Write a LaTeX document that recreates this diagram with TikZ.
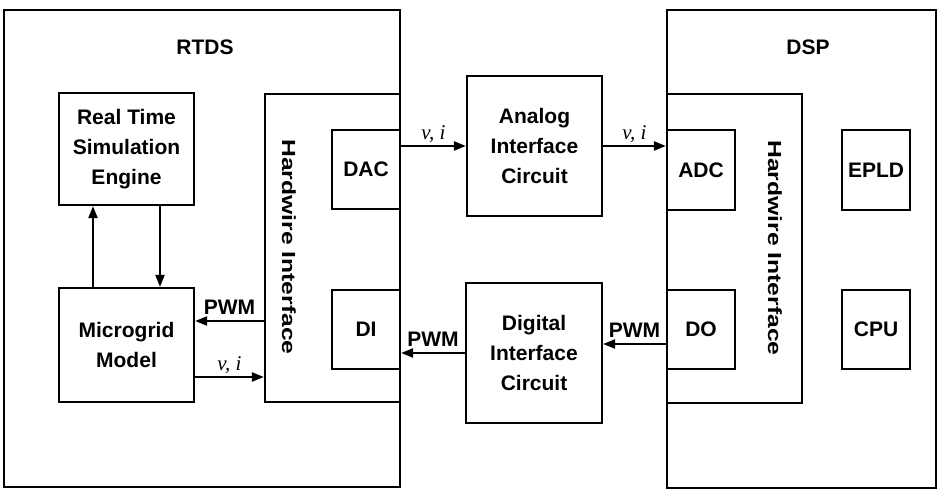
\documentclass[tikz,border=0pt]{standalone}
\usepackage{fontspec}
\setmainfont{Liberation Sans}
\newfontfamily\timesfont{Liberation Serif}
\usetikzlibrary{arrows.meta}

\begin{document}
\begin{tikzpicture}[x=1pt, y=-1pt, line width=2.2pt,
    blk/.style={draw, inner sep=0pt, align=center, font=\bfseries\fontsize{21}{30}\selectfont},
    title/.style={font=\bfseries\fontsize{21}{24}\selectfont},
    hwtext/.style={font=\bfseries\fontsize{19}{24}\selectfont, rotate=-90, xscale=1.3},
    sig/.style={-{Triangle[length=12pt,width=9pt]}},
    vi/.style={font=\timesfont\itshape\fontsize{21}{24}\selectfont, above, inner sep=2pt},
    pwm/.style={font=\bfseries\fontsize{21}{24}\selectfont, above, inner sep=5pt}]

    \useasboundingbox (0,0) rectangle (939,489);

    % RTDS
    \node[blk, minimum width=396pt, minimum height=477pt] (rtds) at (202,248.5) {};
    \node[title] (rtdsname) at (205,47) {RTDS};
    \node[blk, minimum width=135pt, minimum height=112pt] (rtse) at (126.5,149) {Real Time\\Simulation\\Engine};
    \node[blk, minimum width=135pt, minimum height=114pt] (mg) at (126.5,345) {Microgrid\\Model};
    \draw[sig] ([xshift=-33.5pt]mg.north) -- ([xshift=-33.5pt]rtse.south);
    \draw[sig] ([xshift=33.5pt]rtse.south) -- ([xshift=33.5pt]mg.north);

    % Hardwire interface (RTDS)
    \node[blk, minimum width=135pt, minimum height=308pt] (hwl) at (332.5,248) {};
    \node[hwtext] (hwltext) at (289,247) {Hardwire Interface};
    \node[blk, minimum width=68pt, minimum height=79pt] (dac) at (366,169.5) {DAC};
    \node[blk, minimum width=68pt, minimum height=79pt] (di) at (366,329.5) {DI};
    \coordinate (mgin) at ([yshift=24pt]mg.east);
    \coordinate (mgout) at ([yshift=-32pt]mg.east);
    \draw[sig] (hwl.west |- mgin) -- (mgin) node[pwm, midway] (pwmmg) {PWM};
    \draw[sig] (mgout) -- (mgout -| hwl.west) node[vi, midway] (vimg) {v, i};

    % Interface circuits
    \node[blk, minimum width=135pt, minimum height=140pt] (ana) at (534.5,146) {Analog\\Interface\\Circuit};
    \node[blk, minimum width=136pt, minimum height=140pt] (dig) at (534,353) {Digital\\Interface\\Circuit};

    % DSP
    \node[blk, minimum width=269pt, minimum height=478pt] (dsp) at (801.5,249) {};
    \node[title] (dspname) at (808,47) {DSP};
    \node[blk, minimum width=135pt, minimum height=309pt] (hwr) at (734.5,248.5) {};
    \node[hwtext] (hwrtext) at (775,248) {Hardwire Interface};
    \node[blk, minimum width=68pt, minimum height=80pt] (adc) at (701,170) {ADC};
    \node[blk, minimum width=68pt, minimum height=79pt] (do) at (701,329.5) {DO};
    \node[blk, minimum width=68pt, minimum height=80pt] (epld) at (876,170) {EPLD};
    \node[blk, minimum width=68pt, minimum height=79pt] (cpu) at (876,329.5) {CPU};

    % signals
    \coordinate (digin) at ([yshift=9pt]dig.east);
    \draw[sig] (dac.east |- ana.west) -- (ana.west) node[vi, midway] (vidac) {v, i};
    \draw[sig] (ana.east) -- (ana.east -| adc.west) node[vi, midway] (viadc) {v, i};
    \draw[sig] (do.west |- digin) -- (digin) node[pwm, midway] (pwmdo) {PWM};
    \draw[sig] (dig.west) -- (dig.west -| di.east) node[pwm, midway] (pwmdi) {PWM};

\end{tikzpicture}
\end{document}
